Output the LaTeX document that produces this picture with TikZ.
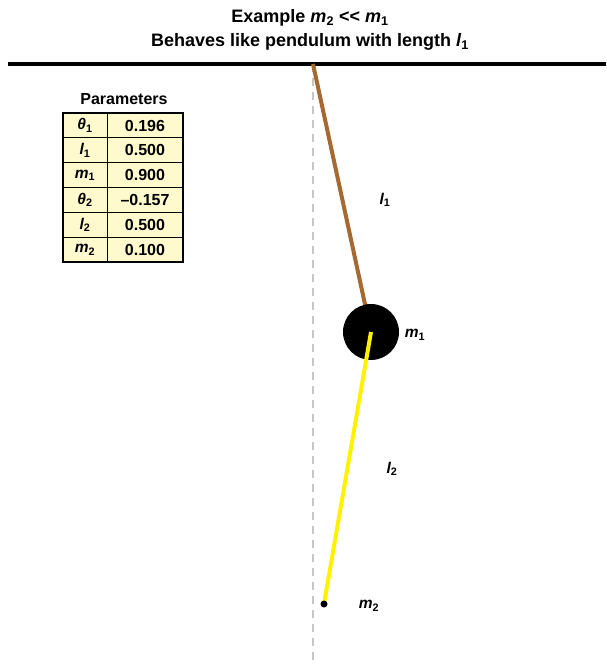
\documentclass[tikz,border=0pt]{standalone}
\usepackage{fontspec}
\setmainfont{Liberation Sans}
\begin{document}
\begin{tikzpicture}[x=1pt,y=-1pt,
  lab/.style={font=\fontsize{15.5}{18}\selectfont\bfseries\itshape, inner sep=0pt},
  cell/.style={font=\fontsize{16}{19}\selectfont\bfseries, inner sep=0pt},
  ttl/.style={font=\fontsize{18}{21}\selectfont\bfseries, inner sep=0pt, align=center}]
\definecolor{rodbrown}{RGB}{165,105,50}
\definecolor{tabfill}{RGB}{255,250,205}
\newcommand{\lowix}[1]{\textsubscript{\upshape#1}}
\useasboundingbox (0,0) rectangle (606,666);
% title
\node[ttl] (t1) at (310,18) {Example \textit{m}\lowix{2} {<}{<} \textit{m}\lowix{1}};
\node[ttl] (t2) at (310,42) {Behaves like pendulum with length \textit{l}\lowix{1}};
% ceiling
\draw[line width=3.5pt] (8,64) -- (606,64);
% coordinates
\coordinate (pivot) at (313,64);
\coordinate (dashend) at (313,662);
\coordinate (m1c) at (371,332);
\coordinate (m2c) at (324,604);
\draw[gray!45, line width=1.2pt, dash pattern=on 8pt off 6pt] (pivot) -- (dashend);
\draw[rodbrown, line width=4pt] (pivot) -- (m1c);
\fill[black] (m1c) circle (28);
\draw[yellow, line width=4pt] (m1c) -- (m2c);
\fill[black] (m2c) circle (3.5);
% labels
\node[lab] (lbl1) at (385,200) {l\lowix{1}};
\node[lab] (lbm1) at (415,335) {m\lowix{1}};
\node[lab] (lbl2) at (392,469) {l\lowix{2}};
\node[lab] (lbm2) at (369,606) {m\lowix{2}};
% table
\node[cell] (ptitle) at (124,99) {Parameters};
\fill[tabfill] (63,113) rectangle (183,262);
\foreach \y in {137.8,162.7,187.5,212.3,237.2} \draw[line width=1pt] (63,\y) -- (183,\y);
\draw[line width=1pt] (107,113) -- (107,262);
\draw[line width=2pt] (63,113) rectangle (183,262);
\node[lab] (r1a) at (85,125.5) {θ\lowix{1}};
\node[lab] (r2a) at (85,150.3) {l\lowix{1}};
\node[lab] (r3a) at (85,175.1) {m\lowix{1}};
\node[lab] (r4a) at (85,200) {θ\lowix{2}};
\node[lab] (r5a) at (85,224.8) {l\lowix{2}};
\node[lab] (r6a) at (85,249.6) {m\lowix{2}};
\node[cell] (r1b) at (145,125.5) {0.196};
\node[cell] (r2b) at (145,150.3) {0.500};
\node[cell] (r3b) at (145,175.1) {0.900};
\node[cell] (r4b) at (145,200) {–0.157};
\node[cell] (r5b) at (145,224.8) {0.500};
\node[cell] (r6b) at (145,249.6) {0.100};
\end{tikzpicture}
\end{document}
